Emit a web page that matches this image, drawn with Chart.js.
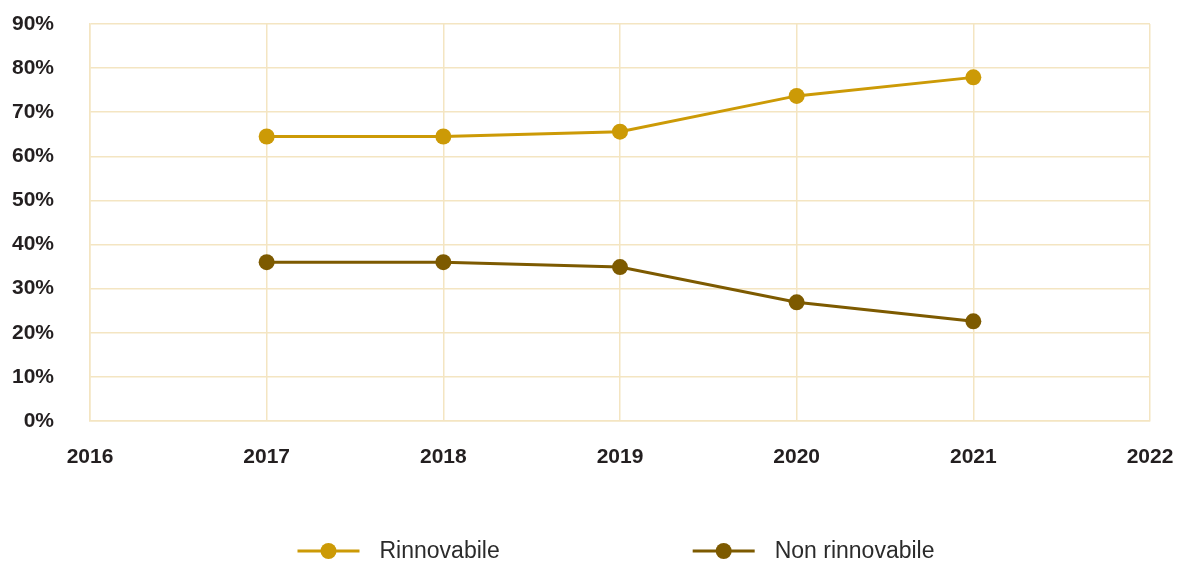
<!DOCTYPE html>
<html>
<head>
<meta charset="utf-8">
<script src="https://cdn.jsdelivr.net/npm/chart.js@4"></script>
<style>
  html, body { margin: 0; padding: 0; background: #fff; }
  #wrap { width: 1189px; height: 562px; }
</style>
</head>
<body>
<div id="wrap"><canvas id="myChart" width="1189" height="562"></canvas></div>
<script>
// Dati
const years = [2017, 2018, 2019, 2020, 2021];
const rinnovabile = [64.5, 64.5, 65.6, 73.7, 77.9];
const nonRinnovabile = [36.0, 36.0, 34.9, 26.9, 22.6];
const seriesLabels = ['Rinnovabile', 'Non rinnovabile'];
const seriesColors = ['#CC9A06', '#7D5A00'];

const gridColor = '#F4E5C2';
const tickFont = { family: 'Liberation Sans, Arial, sans-serif', size: 21, weight: 'bold' };

function toPoints(values) {
    return years.map((y, i) => ({ x: y, y: values[i] }));
}

// Legenda disegnata sotto il grafico: linea + cerchio
const bottomLegend = {
    id: 'bottomLegend',
    afterDraw(chart) {
        const ctx = chart.ctx;
        const area = chart.chartArea;
        const lineLen = 62;
        const textGap = 20;
        const itemGap = 193;
        const cy = 551;
        ctx.save();
        ctx.font = '23px "Liberation Sans", Arial, sans-serif';
        const widths = chart.data.datasets.map(ds => lineLen + textGap + ctx.measureText(ds.label).width);
        const total = widths.reduce((a, b) => a + b, 0) + itemGap * (widths.length - 1);
        let x = (area.left + area.right) / 2 - total / 2 - 4;
        chart.data.datasets.forEach((ds, i) => {
            ctx.strokeStyle = ds.borderColor;
            ctx.lineWidth = 3;
            ctx.beginPath();
            ctx.moveTo(x, cy);
            ctx.lineTo(x + lineLen, cy);
            ctx.stroke();
            ctx.fillStyle = ds.backgroundColor;
            ctx.beginPath();
            ctx.arc(x + lineLen / 2, cy, 8, 0, Math.PI * 2);
            ctx.fill();
            ctx.fillStyle = '#2b2b2b';
            ctx.textBaseline = 'middle';
            ctx.textAlign = 'left';
            ctx.fillText(ds.label, x + lineLen + textGap, cy + 1);
            x += widths[i] + itemGap;
        });
        ctx.restore();
    }
};

const ctx = document.getElementById('myChart').getContext('2d');
new Chart(ctx, {
    type: 'line',
    data: {
        datasets: [
            {
                label: seriesLabels[0],
                data: toPoints(rinnovabile),
                borderColor: seriesColors[0],
                backgroundColor: seriesColors[0],
                borderWidth: 3,
                pointRadius: 8,
                pointHoverRadius: 8,
                pointBorderWidth: 0,
                tension: 0
            },
            {
                label: seriesLabels[1],
                data: toPoints(nonRinnovabile),
                borderColor: seriesColors[1],
                backgroundColor: seriesColors[1],
                borderWidth: 3,
                pointRadius: 8,
                pointHoverRadius: 8,
                pointBorderWidth: 0,
                tension: 0
            }
        ]
    },
    options: {
        responsive: false,
        animation: false,
        layout: { padding: { top: 24, right: 39, left: 0, bottom: 0 } },
        plugins: {
            legend: { display: false },
            tooltip: { enabled: false }
        },
        scales: {
            x: {
                type: 'linear',
                min: 2016,
                max: 2022,
                ticks: {
                    stepSize: 1,
                    color: '#231f20',
                    font: tickFont,
                    padding: 24,
                    callback: v => String(v)
                },
                grid: { color: gridColor, lineWidth: 1.5, drawTicks: false },
                border: { color: gridColor, width: 1.5 },
                afterFit: scale => {
                    scale.height = 141;
                    scale.paddingLeft = 0;
                    scale.paddingRight = 0;
                }
            },
            y: {
                min: 0,
                max: 90,
                ticks: {
                    stepSize: 10,
                    color: '#231f20',
                    font: tickFont,
                    padding: 36,
                    callback: v => v + '%'
                },
                grid: { color: gridColor, lineWidth: 1.5, drawTicks: false },
                border: { color: gridColor, width: 1.5 },
                afterFit: scale => {
                    scale.width = 90;
                    scale.paddingTop = 0;
                    scale.paddingBottom = 0;
                }
            }
        }
    },
    plugins: [bottomLegend]
});
</script>
</body>
</html>
